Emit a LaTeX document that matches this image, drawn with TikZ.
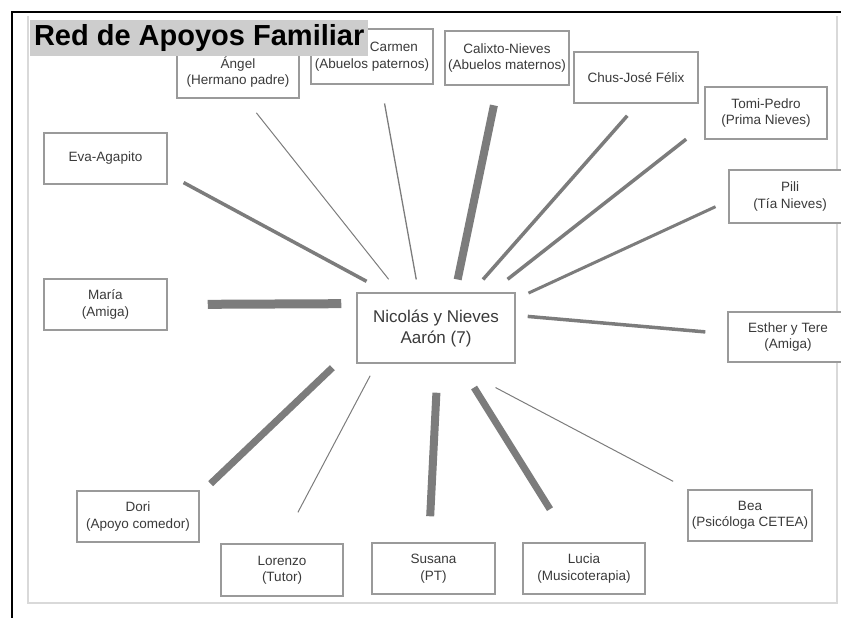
\documentclass[tikz,border=0pt]{standalone}
\usepackage{fontspec}
\setmainfont{Liberation Sans}
\usepackage{xcolor}
\definecolor{boxgray}{HTML}{9A9A9A}
\definecolor{linkgray}{HTML}{7C7C7C}
\definecolor{titlegray}{HTML}{CDCDCD}
\definecolor{textgray}{HTML}{3A3A3A}

\begin{document}
\begin{tikzpicture}[x=1bp, y=-1bp]
\tikzset{
    mybox/.style={rectangle, draw=boxgray, line width=1.5bp, fill=white, text=textgray, align=center, inner sep=1bp, minimum width=122bp, minimum height=52bp, font=\fontsize{13.5bp}{16.5bp}\selectfont},
    mycenter/.style={mybox, minimum width=158bp, minimum height=70bp, font=\fontsize{17bp}{21bp}\selectfont},
    mytitle/.style={fill=titlegray, text=black, inner sep=0pt, minimum width=338bp, minimum height=36bp, font=\fontsize{29bp}{32bp}\bfseries\selectfont},
    thinlink/.style={draw=linkgray, line width=1bp},
    midlink/.style={draw=linkgray, line width=3.5bp},
    thicklink/.style={draw=linkgray, line width=8bp}
}
\clip (0,0) rectangle (841,618);
% frame of the slide
\draw[black, line width=2bp] (12,618) -- (12,12) -- (841,12);
\draw[gray!30, line width=1.5bp] (28,16) -- (28,603) -- (837,603) -- (837,16);

\node[mybox] (angel) at (238,72) {Ángel\\(Hermano padre)};
\node[mybox, minimum height=55bp] (carmen) at (372,56.5) {\hspace*{44bp}Carmen\\(Abuelos paternos)};
\node[mybox, minimum width=124bp, minimum height=54bp] (calixto) at (507,58) {Calixto-Nieves\\(Abuelos maternos)};
\node[mybox, minimum width=124bp, minimum height=51bp] (chus) at (636,77.5) {Chus-José Félix};
\node[mybox] (tomi) at (766,113) {Tomi-Pedro\\(Prima Nieves)};
\node[mybox, minimum height=53bp] (pili) at (790,196.5) {Pili\\(Tía Nieves)};
\node[mybox, minimum width=123bp, minimum height=51bp] (eva) at (105.5,158.5) {Eva-Agapito};
\node[mybox, minimum width=123bp, minimum height=51bp] (maria) at (105.5,304.5) {María\\(Amiga)};
\node[mycenter] (nucleo) at (436,328) {Nicolás y Nieves\\Aarón (7)};
\node[mybox, minimum width=120bp, minimum height=50bp] (esther) at (788,337) {Esther y Tere\\(Amiga)};
\node[mybox, minimum height=51bp] (dori) at (138,516.5) {Dori\\(Apoyo comedor)};
\node[mybox] (lorenzo) at (282,570) {Lorenzo\\(Tutor)};
\node[mybox, minimum width=123bp, minimum height=51bp] (susana) at (433.5,568.5) {Susana\\(PT)};
\node[mybox, minimum height=51bp] (lucia) at (584,568.5) {Lucia\\(Musicoterapia)};
\node[mybox, minimum width=124bp, minimum height=51bp] (bea) at (750,515.5) {Bea\\(Psicóloga CETEA)};

% links, the width gives the strength of the support
\draw[midlink, shorten <=18bp, shorten >=23bp] (eva.-14.5) -- (nucleo.144);
\draw[thinlink, shorten <=18bp, shorten >=16.6bp] (angel.-75) -- (nucleo.136.4);
\draw[thinlink, line width=1.3bp, shorten <=19bp, shorten >=13bp] (carmen.-72.6) -- (nucleo.116.8);
\draw[thicklink, shorten <=20bp, shorten >=13bp] (calixto.-108) -- (nucleo.62.4);
\draw[midlink, shorten <=16bp, shorten >=17bp] (chus.-86.6) -- (nucleo.45.3);
\draw[midlink, shorten <=23bp, shorten >=21bp] (tomi.191.2) -- (nucleo.33.8);
\draw[midlink, line width=3bp, shorten <=14bp, shorten >=14bp] (pili.184.3) -- (nucleo.20.2);
\draw[thicklink, line width=9bp, shorten <=40bp, shorten >=15bp] (maria.0) -- (nucleo.163.4);
\draw[midlink, shorten <=12bp, shorten >=22bp] (nucleo.9.4) -- (esther.177.1);
\draw[thicklink, line width=7bp, shorten <=33bp, shorten >=15bp] (nucleo.192.6) -- (dori.20.8);
\draw[thinlink, shorten <=13.6bp, shorten >=35bp] (nucleo.211.3) -- (lorenzo.91.3);
\draw[thicklink, shorten <=29bp, shorten >=26bp] (nucleo.-87.7) -- (susana.100.4);
\draw[thicklink, line width=7bp, shorten <=28bp, shorten >=39bp] (nucleo.-57.8) -- (lucia.117.5);
\draw[thinlink, shorten <=51bp, shorten >=17bp] (nucleo.-68.2) -- (bea.157.6);

\node[mytitle, anchor=north west] (titulo) at (30,20) {Red de Apoyos Familiar};
\end{tikzpicture}
\end{document}
